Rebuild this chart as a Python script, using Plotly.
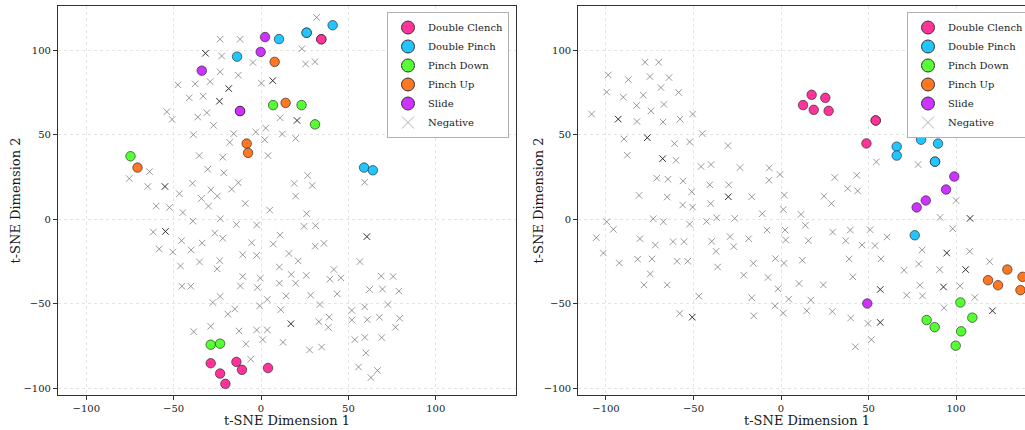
import plotly.graph_objects as go

FONT = "DejaVu Serif"

# ---------------- data (t-SNE coordinates) ----------------
CLASSES = ["Double Clench", "Double Pinch", "Pinch Down", "Pinch Up", "Slide"]
COLORS = ["#FF3399", "#22C5FF", "#55FF33", "#FF7722", "#CC33FF"]
TICKS = [-100, -50, 0, 50, 100]

# Left panel
L_clench = [(34.5, 106.7), (34.5, 106.7), (-28.8, -85.2), (-14.1, -84.4), (-10.9, -89.1),
            (-23.4, -91.3), (-20.4, -97.4), (4.0, -88.0)]
L_dpinch = [(10.3, 106.8), (26.1, 110.6), (26.1, 110.6), (41.0, 115.0), (-13.7, 96.4),
            (59.0, 30.7), (64.0, 29.1)]
L_pdown = [(6.9, 67.7), (23.2, 67.7), (30.9, 56.3), (-74.7, 37.4), (-28.8, -74.2), (-23.4, -73.6)]
L_pup = [(7.8, 93.3), (14.1, 69.0), (-8.2, 44.9), (-7.4, 39.4), (-70.7, 30.7)]
L_slide = [(2.3, 108.0), (-0.2, 99.2), (-33.9, 88.1), (-12.0, 64.2), (-12.0, 64.2)]

L_neg = [(31.8, 119.6), (-23.4, 106.7), (-12.0, 106.7), (-22.5, 96.8), (23.4, 101.1), (-4.6, 92.9),
         (25.5, 92.1), (30.9, 93.4), (-23.4, 87.4), (-13.0, 85.4), (0.2, 80.7), (-47.6, 79.7),
         (-37.7, 80.3), (-29.1, 81.6), (-41.1, 72.0), (-33.1, 73.0), (-53.9, 63.8), (-50.9, 59.2),
         (-36.2, 60.6), (-31.0, 63.2), (-27.2, 55.7), (10.9, 60.2), (-38.7, 50.2), (-15.6, 50.8),
         (-17.9, 45.6), (-3.0, 51.8), (2.7, 54.1), (2.1, 47.2), (12.2, 50.6), (19.8, 48.0),
         (-35.4, 37.8), (-21.9, 36.8), (4.0, 37.8), (-63.8, 28.3), (-75.4, 24.2), (-30.5, 29.7),
         (-21.3, 27.6), (-64.8, 19.5), (-39.2, 21.4), (-28.7, 17.5), (-13.0, 21.8), (-16.8, 17.9),
         (-46.7, 15.2), (-34.1, 12.4), (-25.0, 13.8), (19.0, 21.3), (26.7, 26.0), (29.3, 20.1),
         (19.8, 13.8), (59.3, 22.0),
         (-60.0, 7.9), (-52.4, 7.1), (-44.7, 4.1), (-39.0, -1.0), (-30.1, 7.9), (-23.3, 0.4),
         (-9.0, 9.4), (5.0, 5.5), (-14.1, -3.0), (-2.5, -3.3), (26.1, 3.4), (24.6, -4.1),
         (31.2, -3.7), (-61.7, -7.5), (-45.5, -12.6), (-33.7, -14.0), (-26.5, -8.1), (-21.9, -11.2),
         (-5.3, -13.8), (7.0, -14.6), (10.9, -9.3), (-58.3, -17.5), (-50.5, -19.3), (-40.0, -18.1),
         (-35.2, -25.2), (-23.6, -24.4), (-25.1, -29.3), (-10.5, -20.9), (-2.5, -21.3), (16.0, -20.2),
         (21.3, -24.6), (31.0, -15.9), (36.0, -14.2), (-46.1, -27.6), (-45.3, -39.6), (-40.2, -39.6),
         (-10.5, -33.8), (-11.8, -39.4), (-0.4, -34.8), (-2.1, -40.3), (10.5, -28.2), (10.5, -37.8),
         (17.3, -32.6), (19.8, -37.8), (25.9, -33.2), (41.7, -29.7), (39.4, -35.4), (45.7, -34.6),
         (56.6, -25.0), (68.8, -33.6), (75.6, -33.8), (62.1, -41.5), (69.5, -41.3), (78.9, -42.5),
         (43.6, -44.1), (28.4, -44.9), (14.3, -45.3), (33.7, -50.4), (3.6, -47.4), (-0.8, -51.2),
         (-23.4, -45.6), (-27.6, -49.2), (-15.0, -53.1), (-19.0, -56.1), (11.3, -53.5), (33.1, -60.6),
         (39.0, -57.9), (38.5, -63.9), (52.0, -53.9), (59.3, -51.8), (52.0, -59.6), (60.8, -59.4),
         (67.8, -58.0), (72.6, -50.4), (79.4, -58.6), (77.0, -63.9), (-38.5, -66.5), (-28.8, -63.3),
         (-12.6, -66.1), (-2.5, -65.5), (3.6, -65.5), (1.0, -71.2), (-8.7, -73.8), (12.6, -72.8),
         (27.8, -77.3), (34.7, -75.6), (53.7, -71.2), (59.4, -69.9), (69.1, -70.0), (60.0, -79.1),
         (55.8, -87.4), (62.9, -93.7), (66.7, -89.5), (-5.9, -82.8)]
# negatives where several samples overlap (drawn darker)
L_neg_stacked = [(-31.8, 98.4), (6.7, 82.2), (-18.5, 77.5), (-23.8, 70.0), (20.6, 58.6),
                 (-55.0, 19.5), (-54.7, -7.1), (60.6, -10.2), (17.1, -61.8)]

# Right panel
R_clench = [(12.6, 67.7), (17.5, 73.8), (18.7, 64.9), (25.3, 72.0), (27.2, 64.3),
            (54.1, 58.6), (54.1, 58.6), (48.8, 45.0)]
R_dpinch = [(66.1, 43.1), (66.1, 37.8), (80.0, 47.2), (88.0, 34.2), (88.0, 34.2),
            (89.7, 44.9), (76.4, -9.4)]
R_pdown = [(102.5, -49.2), (83.2, -59.6), (87.8, -63.8), (109.3, -58.2), (102.9, -66.3), (99.8, -74.8)]
R_pup = [(118.3, -36.0), (124.0, -39.0), (129.3, -29.7), (138.0, -34.0), (136.8, -41.9)]
R_slide = [(99.0, 25.4), (94.3, 17.7), (82.7, 11.2), (77.5, 7.1), (49.3, -49.8)]

R_neg = [(-77.7, 93.1), (-69.9, 93.1), (-98.7, 85.6), (-87.2, 82.8), (-74.9, 84.6), (-64.0, 84.0),
         (-99.6, 75.4), (-90.1, 72.4), (-78.7, 73.6), (-68.6, 78.1), (-58.5, 75.2), (-82.5, 67.5),
         (-66.9, 68.1), (-74.3, 64.3), (-108.2, 62.4), (-82.3, 58.0), (-67.4, 57.7), (-57.7, 59.4),
         (-50.5, 62.4), (-89.7, 47.6), (-87.8, 38.0), (-60.8, 44.9), (-60.0, 35.0), (-52.2, 45.9),
         (-45.0, 50.8), (-45.7, 31.3), (-40.0, 32.5), (-30.3, 43.7), (-23.4, 30.7), (-6.7, 30.5),
         (-0.6, 26.6), (-6.9, 23.2), (-71.0, 24.4), (-64.6, 23.8), (-56.0, 22.8), (-51.0, 16.4),
         (-81.1, 14.2), (-65.0, 13.2), (-40.7, 20.5), (-29.9, 20.5), (-16.7, 13.4), (1.9, 14.4),
         (24.6, 13.8), (30.7, 24.8), (38.1, 18.3), (43.3, 26.1), (43.8, 16.9), (54.5, 34.1),
         (78.3, 32.5), (28.8, 9.4), (-56.2, 8.5), (-50.5, 7.3), (-40.2, 9.4), (-36.7, 1.0),
         (-42.5, -1.2), (-26.5, 0.6), (-10.7, 3.4), (1.3, 5.9), (11.4, 3.0), (13.9, -3.5),
         (-8.0, -6.3), (2.3, -6.3), (2.7, -12.2), (15.6, -12.6), (29.5, -7.5), (39.6, -6.3),
         (37.0, -12.6), (50.9, -6.1), (53.7, -15.5), (46.3, -15.2), (60.6, -10.4), (57.1, -23.4),
         (38.9, -23.4), (41.0, -34.0), (70.3, -30.1), (71.8, -44.9), (78.7, -26.4), (80.6, -18.1),
         (79.4, -39.0), (80.8, -45.3), (90.9, 1.2), (98.1, -5.5), (100.0, 11.2), (90.7, -29.7),
         (93.1, -52.4), (102.3, -39.4), (107.8, -18.9), (110.7, -46.2), (119.2, -25.0), (42.5, -75.4),
         (49.7, -61.6), (51.6, -71.2), (39.8, -58.4), (29.3, -54.5), (17.0, -47.8), (14.7, -54.1),
         (10.3, -38.0), (24.2, -38.8), (12.2, -24.2), (4.4, -47.2), (1.3, -55.5), (-1.7, -41.1),
         (-3.4, -51.2), (1.7, -26.0), (-3.2, -23.2), (-7.4, -34.4), (-15.8, -26.0), (-18.5, -11.4),
         (-21.3, -33.0), (-16.7, -46.4), (-15.6, -57.1), (-27.0, -16.1), (-29.1, -10.2), (-36.2, -28.2),
         (-39.6, -13.0), (-37.1, -18.9), (-47.0, -45.5), (-57.9, -55.7), (-52.2, -2.8), (-55.4, -13.2),
         (-61.7, -13.2), (-59.4, -24.8), (-53.3, -24.8), (-65.0, -38.8), (-67.2, -1.4), (-73.0, 0.4),
         (-71.8, -15.2), (-80.6, -11.4), (-81.9, -23.6), (-73.7, -23.4), (-74.7, -32.3), (-78.3, -38.8),
         (-99.6, -1.4), (-95.8, -5.9), (-105.5, -10.8), (-101.5, -19.9), (-92.4, -25.8)]
R_neg_stacked = [(-93.0, 59.4), (-76.4, 48.4), (-67.6, 36.0), (-30.1, 13.4), (56.7, -41.5),
                 (94.7, -19.9), (92.8, -40.0), (105.5, -29.7), (108.0, 0.6), (120.8, -54.1),
                 (56.7, -61.0), (-50.7, -57.9)]

LEFT = [L_clench, L_dpinch, L_pdown, L_pup, L_slide]
RIGHT = [R_clench, R_dpinch, R_pdown, R_pup, R_slide]

# ---------------- figure ----------------
fig = go.Figure()
NEG_LIGHT = "rgba(110,110,110,0.7)"
NEG_DARK = "#2e2e2e"
EDGE = "rgba(25,25,25,0.75)"


def xs(pts):
    return [p[0] for p in pts]


def ys(pts):
    return [p[1] for p in pts]


def add_panel(xa, ya, leg, groups, neg, neg_stacked):
    for pts, col in [(neg, NEG_LIGHT), (neg_stacked, NEG_DARK)]:
        fig.add_trace(go.Scatter(
            x=xs(pts), y=ys(pts), mode="markers", xaxis=xa, yaxis=ya, showlegend=False,
            hoverinfo="skip",
            marker=dict(symbol="x-thin", size=6.5, color=col, line=dict(color=col, width=1))))
    for pts, col in zip(groups, COLORS):
        fig.add_trace(go.Scatter(
            x=xs(pts), y=ys(pts), mode="markers", xaxis=xa, yaxis=ya, showlegend=False,
            hoverinfo="skip",
            marker=dict(symbol="circle", size=9.5, color=col, line=dict(color=EDGE, width=0.8))))
    # legend entries
    for name, col in zip(CLASSES, COLORS):
        fig.add_trace(go.Scatter(
            x=[None], y=[None], mode="markers", xaxis=xa, yaxis=ya, name=name, legend=leg,
            marker=dict(symbol="circle", size=13, color=col, line=dict(color="#333", width=1))))
    fig.add_trace(go.Scatter(
        x=[None], y=[None], mode="markers", xaxis=xa, yaxis=ya, name="Negative", legend=leg,
        marker=dict(symbol="x-thin", size=12, color="rgba(128,128,128,0.6)",
                    line=dict(color="rgba(128,128,128,0.6)", width=1))))


add_panel("x", "y", "legend", LEFT, L_neg, L_neg_stacked)
add_panel("x2", "y2", "legend2", RIGHT, R_neg, R_neg_stacked)

axis_common = dict(
    tickvals=TICKS, showgrid=True, gridcolor="#e4e4e4", gridwidth=0.8, griddash="3px,3px",
    zeroline=False, showline=True, linecolor="#333", linewidth=1.25,
    ticks="outside", ticklen=4, tickwidth=1, tickcolor="#333",
    tickfont=dict(family=FONT, size=10, color="#222"),
)

W, H = 1025, 430
ML, MR, MT, MB = 58, 0, 6, 35
PW = W - ML - MR
PH = H - MT - MB

fig.update_layout(
    width=W, height=H,
    margin=dict(l=ML, r=MR, t=MT, b=MB, autoexpand=False),
    paper_bgcolor="white", plot_bgcolor="white",
    font=dict(family=FONT, color="#222"),
    xaxis=dict(domain=[0, 0.4741], range=[-116.2, 146.2], anchor="y", mirror=True, **axis_common),
    yaxis=dict(domain=[0, 1], range=[-104, 126.4], anchor="x", mirror=True, **axis_common),
    xaxis2=dict(domain=[0.5381, 1], range=[-115.8, 139.4], anchor="y2", mirror=True, **axis_common),
    yaxis2=dict(domain=[0, 1], range=[-104, 126.4], anchor="x2", mirror=False, **axis_common),
    legend=dict(x=(387 - ML) / PW, y=(H - MB - 12) / PH, xanchor="left", yanchor="top",
                bgcolor="white", bordercolor="#b0b0b0", borderwidth=1,
                font=dict(family=FONT, size=10, color="#222"), tracegroupgap=0),
    legend2=dict(x=(907 - ML) / PW, y=(H - MB - 12) / PH, xanchor="left", yanchor="top",
                 bgcolor="white", bordercolor="#b0b0b0", borderwidth=1,
                 font=dict(family=FONT, size=10, color="#222"), tracegroupgap=0),
)

ann_font = dict(family=FONT, size=13, color="#1a1a1a")
yl = (H - MB - 420) / PH
fig.add_annotation(text="t-SNE Dimension 1", xref="paper", yref="paper", x=(287 - ML) / PW, y=yl,
                   xanchor="center", yanchor="middle", showarrow=False, font=ann_font)
fig.add_annotation(text="t-SNE Dimension 1", xref="paper", yref="paper", x=(807 - ML) / PW, y=yl,
                   xanchor="center", yanchor="middle", showarrow=False, font=ann_font)
fig.add_annotation(text="t-SNE Dimension 2", xref="paper", yref="paper", x=(15 - ML) / PW, y=0.5,
                   xanchor="center", yanchor="middle", textangle=-90, showarrow=False, font=ann_font)
fig.add_annotation(text="t-SNE Dimension 2", xref="paper", yref="paper", x=(538 - ML) / PW, y=0.5,
                   xanchor="center", yanchor="middle", textangle=-90, showarrow=False, font=ann_font)

fig.write_html("out.html")
